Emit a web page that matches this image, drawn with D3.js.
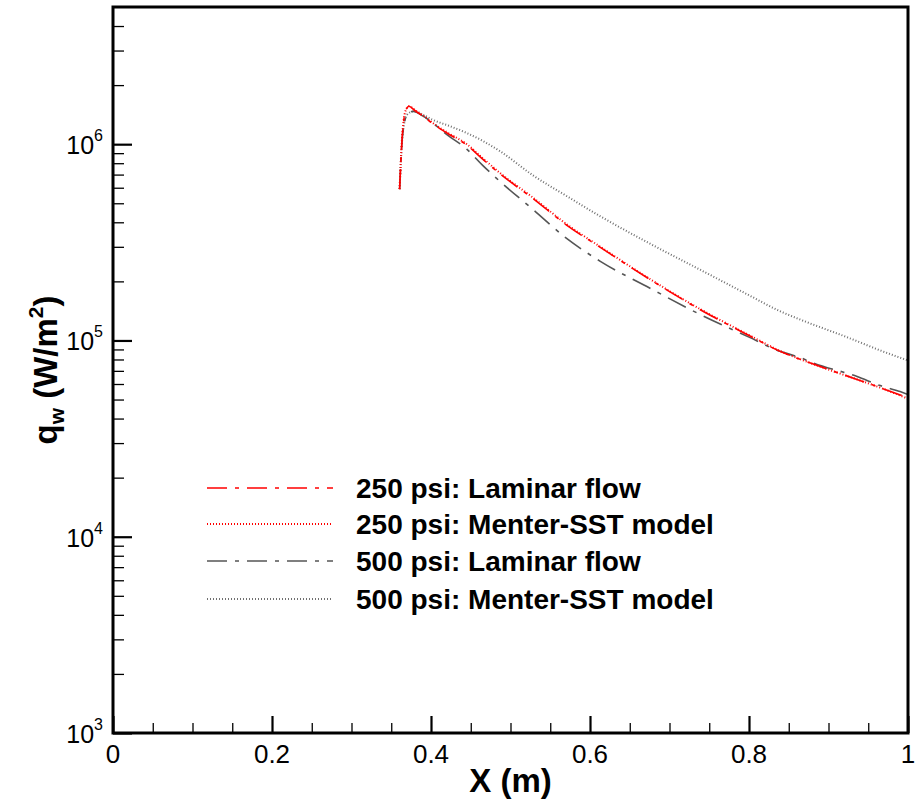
<!DOCTYPE html>
<html>
<head>
<meta charset="utf-8">
<script src="https://cdn.jsdelivr.net/npm/d3@7"></script>
<style>
  html, body { margin: 0; padding: 0; background: #fff; }
  svg { display: block; }
  text { font-family: "Liberation Sans", Arial, Helvetica, sans-serif; fill: #000; }
</style>
</head>
<body>
<svg id="chart" width="916" height="801"></svg>
<script>
// ---------------- data ----------------
const xTickValues = [0, 0.2, 0.4, 0.6, 0.8, 1];
const xTickLabels = ["0", "0.2", "0.4", "0.6", "0.8", "1"];
const yTickExponents = [3, 4, 5, 6];

const seriesNames = [
  "250 psi: Laminar flow",
  "250 psi: Menter-SST model",
  "500 psi: Laminar flow",
  "500 psi: Menter-SST model"
];

const xLam250 = [0.3605, 0.362, 0.3635, 0.3655, 0.368, 0.372, 0.380, 0.390, 0.4025, 0.420, 0.445, 0.465, 0.487, 0.528, 0.571, 0.613, 0.675, 0.738, 0.800, 0.839, 0.880, 0.923, 0.965, 1.0];
const qLam250 = [5.9e5, 8.0e5, 1.05e6, 1.30e6, 1.47e6, 1.56e6, 1.48e6, 1.39e6, 1.27e6, 1.14e6, 9.9e5, 8.4e5, 7.05e5, 5.30e5, 3.86e5, 2.98e5, 2.05e5, 1.44e5, 1.06e5, 8.8e4, 7.6e4, 6.6e4, 5.75e4, 5.1e4];

const xSst250 = [0.3605, 0.362, 0.3635, 0.3655, 0.368, 0.372, 0.380, 0.390, 0.4025, 0.420, 0.445, 0.465, 0.487, 0.528, 0.571, 0.613, 0.675, 0.738, 0.800, 0.839, 0.880, 0.923, 0.965, 1.0];
const qSst250 = [5.9e5, 8.1e5, 1.06e6, 1.31e6, 1.48e6, 1.56e6, 1.49e6, 1.40e6, 1.28e6, 1.15e6, 1.0e6, 8.5e5, 7.12e5, 5.35e5, 3.9e5, 3.0e5, 2.06e5, 1.45e5, 1.065e5, 8.85e4, 7.6e4, 6.6e4, 5.75e4, 5.05e4];

const xLam500 = [0.3605, 0.362, 0.3635, 0.3655, 0.368, 0.372, 0.378, 0.390, 0.4025, 0.420, 0.445, 0.465, 0.487, 0.528, 0.571, 0.613, 0.675, 0.738, 0.800, 0.839, 0.864, 0.880, 0.936, 0.965, 0.990, 1.0];
const qLam500 = [5.9e5, 8.0e5, 1.02e6, 1.22e6, 1.36e6, 1.44e6, 1.47e6, 1.39e6, 1.28e6, 1.12e6, 9.43e5, 7.8e5, 6.45e5, 4.66e5, 3.3e5, 2.53e5, 1.85e5, 1.36e5, 1.04e5, 8.8e4, 8.19e4, 7.7e4, 6.55e4, 5.89e4, 5.49e4, 5.3e4];

const xSst500 = [0.3605, 0.362, 0.3635, 0.3655, 0.368, 0.372, 0.378, 0.390, 0.4025, 0.425, 0.445, 0.465, 0.487, 0.528, 0.571, 0.613, 0.675, 0.738, 0.800, 0.839, 0.864, 0.923, 0.965, 1.0];
const qSst500 = [5.9e5, 8.0e5, 1.02e6, 1.22e6, 1.36e6, 1.44e6, 1.47e6, 1.41e6, 1.33e6, 1.23e6, 1.14e6, 1.04e6, 9.2e5, 6.95e5, 5.43e5, 4.29e5, 3.12e5, 2.30e5, 1.70e5, 1.41e5, 1.28e5, 1.04e5, 8.9e4, 7.9e4];

// ---------------- layout ----------------
const svg = d3.select("#chart");
const L = 113, R = 908, T = 7, B = 733;

const x = d3.scaleLinear().domain([0, 1]).range([L, R]);
const y = d3.scaleLog().domain([1e3, 5e6]).range([B, T]);

const styles = [
  { color: "#ff0000", dash: "20,8,4,8", width: 1.6 },
  { color: "#ff0000", dash: "1,2", width: 2 },
  { color: "#555555", dash: "20,8,4,8", width: 1.6 },
  { color: "#707070", dash: "1,2", width: 2 }
];

const seriesX = [xLam250, xSst250, xLam500, xSst500];
const seriesQ = [qLam250, qSst250, qLam500, qSst500];

svg.append("defs").append("clipPath").attr("id", "clip")
  .append("rect").attr("x", L).attr("y", T).attr("width", R - L).attr("height", B - T);

const line = d3.line()
  .x(d => x(d[0]))
  .y(d => y(d[1]))
  .curve(d3.curveMonotoneX);

const plot = svg.append("g").attr("clip-path", "url(#clip)");
const order = [3, 2, 1, 0];
order.forEach(i => {
  const pts = seriesX[i].map((v, k) => [v, seriesQ[i][k]]);
  plot.append("path")
    .attr("d", line(pts))
    .attr("fill", "none")
    .attr("stroke", styles[i].color)
    .attr("stroke-width", styles[i].width)
    .attr("stroke-dasharray", styles[i].dash);
});

// ---------------- axes ----------------
const xMinor = d3.range(0, 21).map(i => i * 0.05).filter(v => !xTickValues.some(t => Math.abs(t - v) < 1e-9));
const yMajor = yTickExponents.map(e => Math.pow(10, e));
const yMinor = [];
[3, 4, 5, 6].forEach(e => { for (let m = 2; m <= 9; m++) { const v = m * Math.pow(10, e); if (v < 5e6) yMinor.push(v); } });

function styleAxis(g, w) {
  g.select(".domain").remove();
  g.selectAll(".tick line").attr("stroke", "#000").attr("stroke-width", w);
  g.selectAll(".tick text").remove();
}

svg.append("g").attr("transform", `translate(0,${B})`)
  .call(d3.axisBottom(x).tickValues(xTickValues).tickSize(-17).tickFormat(""))
  .call(g => styleAxis(g, 2.2));
svg.append("g").attr("transform", `translate(0,${B})`)
  .call(d3.axisBottom(x).tickValues(xMinor).tickSize(-10).tickFormat(""))
  .call(g => styleAxis(g, 1.3));
svg.append("g").attr("transform", `translate(${L},0)`)
  .call(d3.axisLeft(y).tickValues(yMajor).tickSize(-19).tickFormat(""))
  .call(g => styleAxis(g, 2.2));
svg.append("g").attr("transform", `translate(${L},0)`)
  .call(d3.axisLeft(y).tickValues(yMinor).tickSize(-11).tickFormat(""))
  .call(g => styleAxis(g, 1.3));

// frame
svg.append("rect").attr("x", L).attr("y", T).attr("width", R - L).attr("height", B - T)
  .attr("fill", "none").attr("stroke", "#000").attr("stroke-width", 3);

// x tick labels
svg.append("g").selectAll("text").data(xTickValues).join("text")
  .attr("x", d => x(d)).attr("y", B + 30)
  .attr("text-anchor", "middle").attr("font-size", 26)
  .text((d, i) => xTickLabels[i]);

// y tick labels
const yl = svg.append("g").selectAll("text").data(yTickExponents).join("text")
  .attr("x", 103).attr("y", d => y(Math.pow(10, d)) + 10)
  .attr("text-anchor", "end").attr("font-size", 25);
yl.append("tspan").text("10");
yl.append("tspan").attr("dy", -13).attr("font-size", 16).text(d => String(d));

// axis titles
svg.append("text").attr("x", (L + R) / 2).attr("y", 792)
  .attr("text-anchor", "middle").attr("font-size", 33).attr("font-weight", "bold")
  .text("X (m)");

const yt = svg.append("text")
  .attr("transform", `translate(57,${(T + B) / 2}) rotate(-90)`)
  .attr("text-anchor", "middle").attr("font-size", 33).attr("font-weight", "bold");
yt.append("tspan").text("q");
yt.append("tspan").attr("font-size", 21).attr("dy", 7).text("w");
yt.append("tspan").attr("dy", -7).text(" (W/m");
yt.append("tspan").attr("font-size", 21).attr("dy", -14).text("2");
yt.append("tspan").attr("dy", 14).text(")");

// legend
const legY = [488, 524, 561, 599];
const leg = svg.append("g");
seriesNames.forEach((name, i) => {
  leg.append("line")
    .attr("x1", 207).attr("x2", 333).attr("y1", legY[i]).attr("y2", legY[i])
    .attr("stroke", styles[i].color).attr("stroke-width", styles[i].width)
    .attr("stroke-dasharray", styles[i].dash);
  leg.append("text").attr("x", 356).attr("y", legY[i] + 10)
    .attr("font-size", 28).attr("font-weight", "bold").text(name);
});
</script>
</body>
</html>
